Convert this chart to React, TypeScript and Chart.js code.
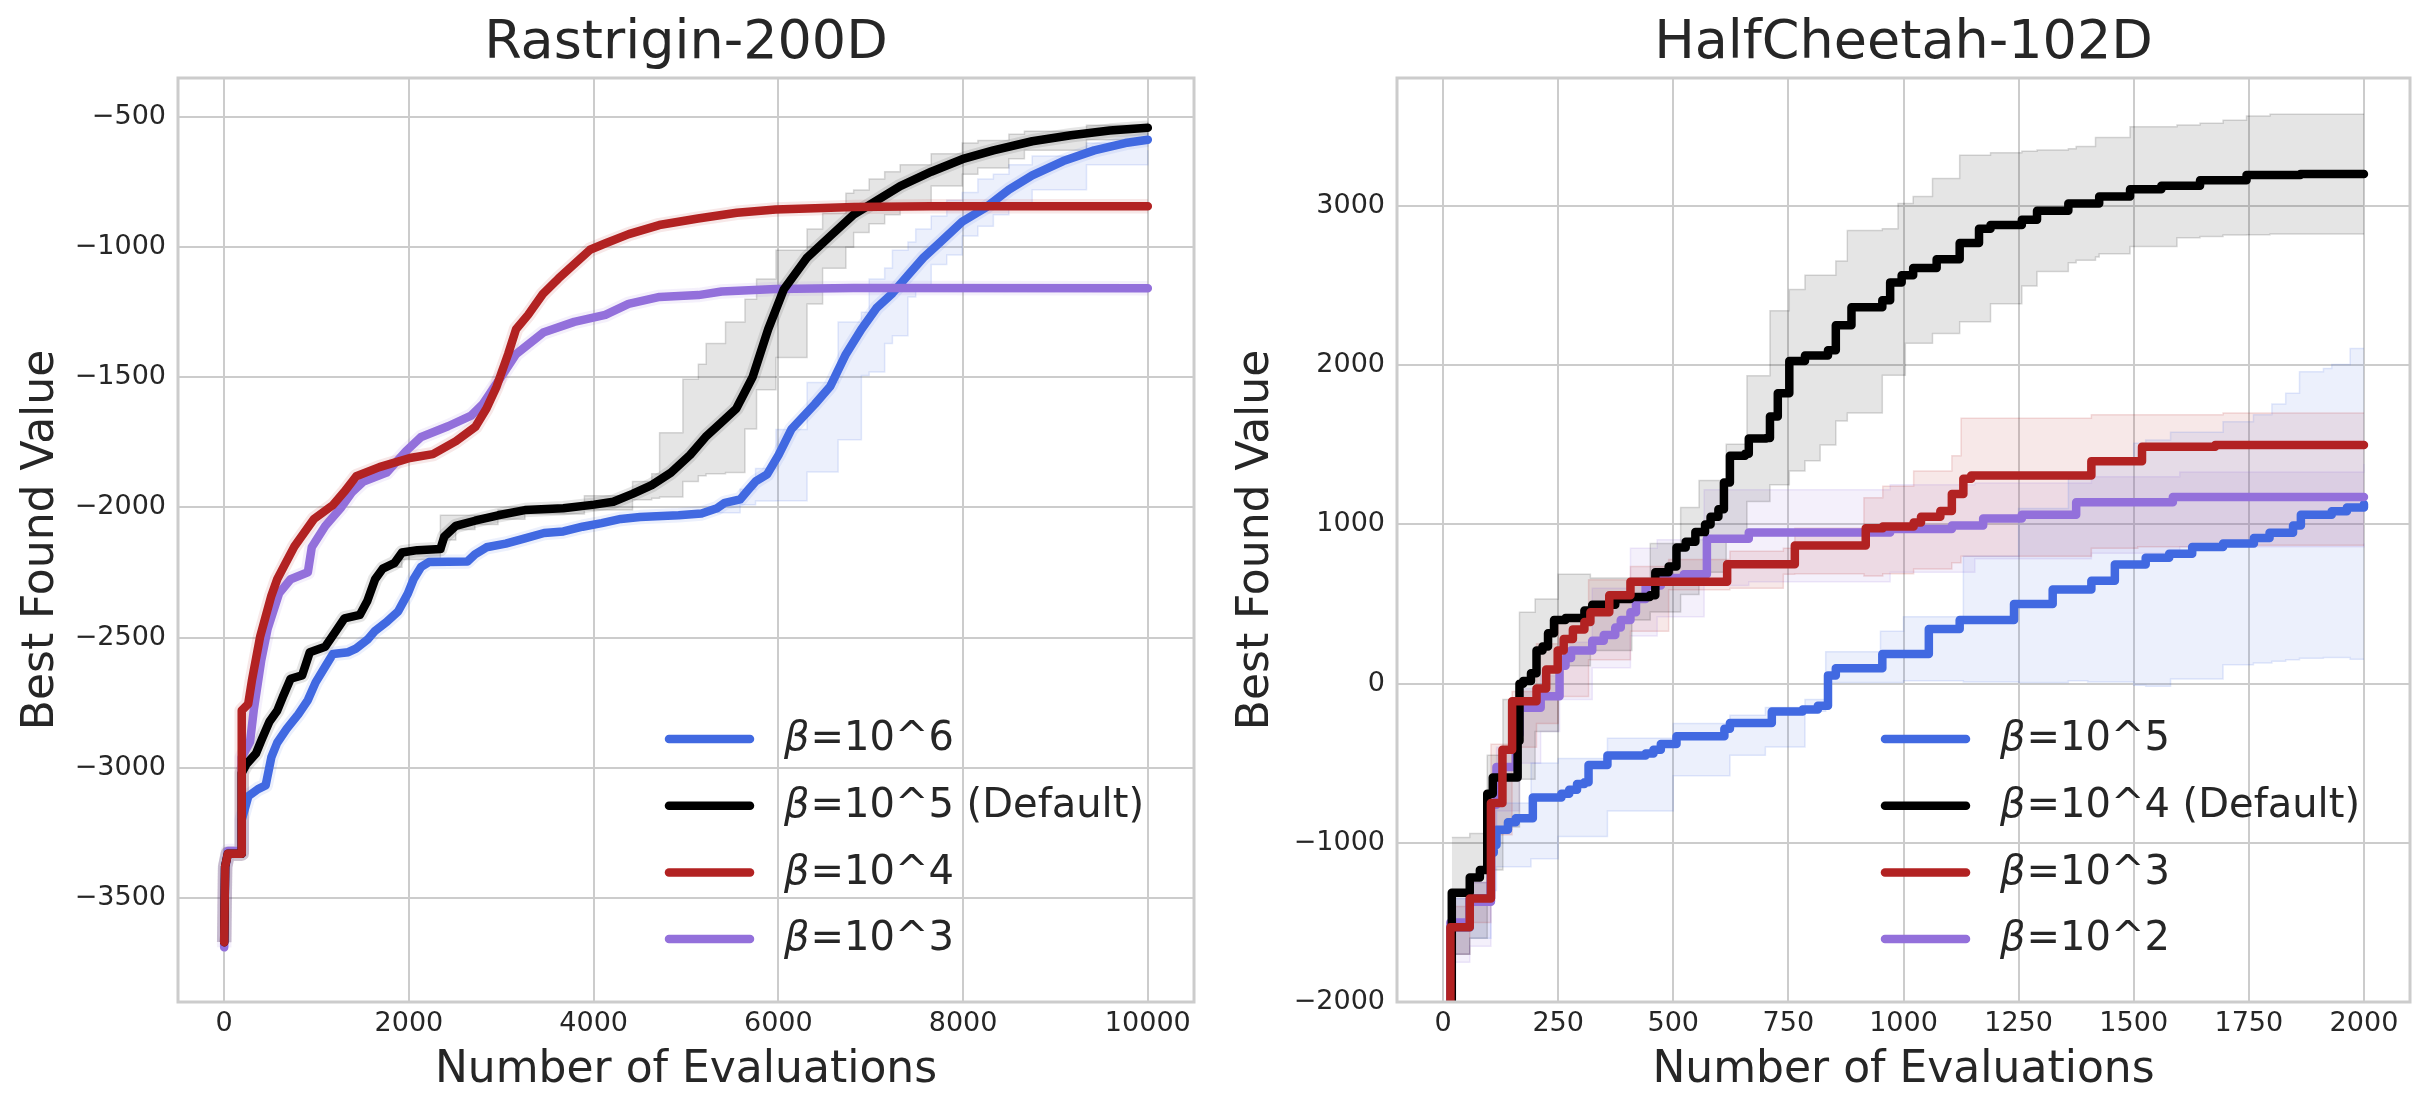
import React, { useEffect, useRef } from "react";
import { Chart, registerables } from "chart.js";

Chart.register(...registerables);

const FONT = '"DejaVu Sans", "Liberation Sans", sans-serif';
const TEXT = "#262626";
const GRID = "#cccccc";

const BLUE = "65,105,225";
const BLACK = "0,0,0";
const RED = "178,34,34";
const PURPLE = "147,112,219";

// ---------- text ----------
const rastTitle = "Rastrigin-200D";
const cheetahTitle = "HalfCheetah-102D";
const xLabel = "Number of Evaluations";
const yLabel = "Best Found Value";
const rastLegend = ["β=10^6", "β=10^5 (Default)", "β=10^4", "β=10^3"];
const cheetahLegend = ["β=10^5", "β=10^4 (Default)", "β=10^3", "β=10^2"];

// ---------- ticks ----------
const rastXTicks = [0, 2000, 4000, 6000, 8000, 10000];
const rastYTicks = [-3500, -3000, -2500, -2000, -1500, -1000, -500];
const cheetahXTicks = [0, 250, 500, 750, 1000, 1250, 1500, 1750, 2000];
const cheetahYTicks = [-2000, -1000, 0, 1000, 2000, 3000];

// ---------- Rastrigin-200D ----------
// beta = 10^6 (blue)
const r6X = [0, 10, 40, 185, 190, 262, 366, 449, 511, 574, 678, 802, 906, 990, 1094, 1177, 1343, 1426, 1551, 1634, 1759, 1884, 1988, 2050, 2133, 2216, 2632, 2715, 2840, 3048, 3256, 3464, 3672, 3879, 4087, 4295, 4503, 4920, 5168, 5336, 5420, 5586, 5670, 5753, 5878, 6003, 6142, 6395, 6563, 6731, 6899, 7067, 7235, 7403, 7571, 7739, 7991, 8244, 8496, 8748, 9084, 9420, 9756, 10000];
const r6Y = [-3670, -3380, -3330, -3330, -3200, -3109, -3082, -3068, -2959, -2904, -2850, -2795, -2740, -2672, -2611, -2563, -2556, -2542, -2508, -2474, -2440, -2399, -2331, -2276, -2228, -2210, -2208, -2180, -2153, -2139, -2119, -2098, -2092, -2074, -2060, -2044, -2037, -2030, -2023, -2003, -1982, -1969, -1934, -1900, -1873, -1798, -1699, -1603, -1534, -1411, -1315, -1232, -1177, -1108, -1040, -985, -902, -848, -779, -724, -669, -628, -600, -587];
const r6BandX = [5336, 5586, 5753, 5974, 6311, 6647, 6899, 6983, 7151, 7235, 7403, 7487, 7655, 7823, 7991, 8160, 8328, 8496, 8748, 9336, 10000];
const r6BandHi = [-1985, -1930, -1850, -1700, -1520, -1287, -1250, -1122, -1080, -1012, -980, -930, -880, -820, -790, -738, -720, -683, -650, -600, -559];
const r6BandLo = [-2020, -1990, -1975, -1974, -1864, -1740, -1493, -1480, -1370, -1340, -1191, -1150, -1067, -1030, -957, -920, -875, -840, -779, -683, -628];

// beta = 10^5 (black, default)
const r5X = [0, 10, 40, 185, 190, 241, 345, 407, 491, 574, 636, 719, 844, 927, 1094, 1198, 1302, 1468, 1551, 1634, 1717, 1842, 1925, 2091, 2341, 2383, 2507, 2715, 2965, 3256, 3672, 4005, 4213, 4421, 4629, 4837, 5045, 5212, 5378, 5545, 5720, 5890, 6058, 6311, 6563, 6815, 7067, 7319, 7655, 7991, 8328, 8748, 9168, 9588, 10000];
const r5Y = [-3670, -3380, -3330, -3330, -3020, -2986, -2945, -2891, -2822, -2781, -2727, -2658, -2645, -2556, -2535, -2481, -2426, -2413, -2358, -2276, -2235, -2214, -2173, -2164, -2160, -2112, -2071, -2051, -2030, -2010, -2003, -1989, -1978, -1948, -1914, -1866, -1798, -1729, -1675, -1620, -1500, -1315, -1163, -1040, -957, -875, -820, -765, -710, -662, -628, -593, -570, -552, -541];
const r5BandX = [1842, 1925, 2341, 2383, 2507, 2715, 2965, 3256, 3900, 4421, 4629, 4714, 4966, 5134, 5218, 5428, 5638, 5764, 5974, 6311, 6479, 6731, 6815, 6983, 7151, 7319, 7655, 7991, 8160, 8496, 8664, 9336, 10000];
const r5BandHi = [-2200, -2160, -2030, -2030, -2030, -2030, -2010, -2000, -1955, -1900, -1870, -1713, -1507, -1450, -1370, -1287, -1200, -1122, -1012, -930, -870, -793, -780, -738, -710, -683, -641, -600, -590, -566, -555, -532, -518];
const r5BandLo = [-2230, -2200, -2170, -2125, -2085, -2065, -2045, -2025, -2010, -1970, -1965, -1960, -1900, -1878, -1870, -1866, -1699, -1548, -1424, -1218, -1081, -1000, -944, -910, -875, -840, -765, -720, -696, -660, -628, -587, -559];

// beta = 10^4 (red)
const r4X = [0, 10, 40, 185, 190, 260, 300, 390, 510, 575, 700, 760, 970, 1180, 1300, 1430, 1680, 2010, 2260, 2510, 2720, 2840, 2950, 3075, 3160, 3290, 3450, 3620, 3790, 3960, 4130, 4380, 4710, 5130, 5550, 5970, 6820, 7650, 10000];
const r4Y = [-3670, -3380, -3330, -3330, -2780, -2755, -2665, -2495, -2340, -2275, -2190, -2150, -2045, -1990, -1940, -1880, -1845, -1810, -1795, -1745, -1690, -1620, -1535, -1410, -1315, -1260, -1180, -1120, -1065, -1010, -985, -950, -915, -890, -868, -855, -846, -843, -843];

// beta = 10^3 (purple)
const r3X = [0, 10, 40, 185, 190, 280, 320, 400, 470, 594, 719, 906, 948, 1094, 1260, 1385, 1509, 1759, 1967, 2133, 2424, 2674, 2798, 3034, 3160, 3454, 3790, 4126, 4378, 4714, 5134, 5386, 5974, 6815, 10000];
const r3Y = [-3690, -3390, -3320, -3320, -2960, -2900, -2780, -2590, -2467, -2330, -2276, -2249, -2153, -2071, -2003, -1941, -1900, -1866, -1784, -1729, -1688, -1647, -1604, -1479, -1411, -1328, -1287, -1260, -1218, -1191, -1184, -1170, -1161, -1157, -1158];

// ---------- HalfCheetah-102D ----------
// beta = 10^5 (blue)
const h5X = [12, 16, 58, 104, 110, 116, 141, 158, 195, 257, 274, 291, 307, 316, 357, 440, 457, 473, 507, 611, 623, 714, 781, 814, 836, 853, 954, 1055, 1122, 1240, 1324, 1408, 1459, 1526, 1577, 1627, 1694, 1761, 1795, 1846, 1863, 1930, 1963, 2000];
const h5Y = [-2300, -1530, -1350, -1062, -1014, -918, -870, -846, -715, -691, -667, -631, -619, -511, -451, -439, -415, -379, -331, -283, -247, -175, -163, -139, 52, 97, 186, 344, 400, 501, 591, 647, 748, 791, 816, 859, 881, 915, 948, 993, 1061, 1083, 1106, 1128];
const h5BandX = [16, 58, 104, 116, 191, 250, 357, 500, 623, 700, 786, 831, 950, 1000, 1130, 1250, 1358, 1400, 1500, 1526, 1580, 1694, 1760, 1800, 1830, 1860, 1912, 1930, 1970, 2000];
const h5BandHi = [-1350, -1250, -1000, -750, -499, -470, -343, -250, -199, -150, -100, 200, 330, 420, 800, 1100, 1300, 1380, 1510, 1530, 1580, 1645, 1690, 1757, 1825, 1960, 1980, 2005, 2106, 2106];
const h5BandLo = [-1700, -1600, -1300, -1150, -1100, -960, -800, -578, -450, -398, -173, 7, 7, 18, 10, 7, 18, 10, -10, -16, 30, 119, 130, 140, 150, 160, 164, 164, 153, 153];

// beta = 10^4 (black, default)
const h4X = [10, 19, 58, 80, 96, 108, 162, 166, 174, 191, 203, 216, 228, 241, 266, 307, 324, 374, 407, 449, 461, 490, 507, 527, 548, 569, 581, 598, 610, 623, 656, 664, 702, 710, 727, 752, 786, 836, 853, 887, 954, 971, 996, 1021, 1072, 1122, 1164, 1189, 1257, 1290, 1358, 1425, 1492, 1560, 1644, 1745, 1862, 2000];
const h4Y = [-2300, -1314, -1218, -1170, -691, -590, -360, 0, 17, 65, 209, 233, 317, 400, 412, 460, 496, 532, 544, 556, 700, 736, 856, 892, 952, 1000, 1048, 1096, 1264, 1432, 1444, 1540, 1544, 1679, 1825, 2027, 2061, 2094, 2252, 2364, 2409, 2521, 2566, 2611, 2667, 2769, 2858, 2881, 2915, 2971, 3016, 3061, 3106, 3128, 3162, 3195, 3202, 3202];
const h4BandX = [19, 58, 96, 130, 166, 200, 250, 320, 410, 450, 516, 556, 615, 660, 710, 752, 786, 819, 853, 878, 954, 988, 1004, 1021, 1063, 1122, 1189, 1257, 1290, 1358, 1375, 1417, 1425, 1492, 1594, 1644, 1694, 1745, 1796, 2000];
const h4BandHi = [-966, -942, -450, -100, 448, 532, 688, 664, 664, 880, 1106, 1276, 1504, 1935, 2342, 2476, 2566, 2566, 2656, 2847, 2858, 3016, 3016, 3061, 3173, 3319, 3335, 3345, 3353, 3360, 3375, 3431, 3431, 3499, 3510, 3521, 3540, 3566, 3577, 3577];
const h4BandLo = [-1700, -1600, -1170, -900, -600, -300, 113, 209, 400, 450, 560, 700, 900, 1144, 1250, 1336, 1400, 1500, 1650, 1700, 1937, 1937, 2139, 2139, 2200, 2274, 2387, 2499, 2589, 2645, 2660, 2680, 2701, 2746, 2802, 2810, 2818, 2820, 2825, 2825];

// beta = 10^3 (red)
const h3X = [12, 16, 58, 104, 129, 150, 203, 224, 249, 262, 282, 307, 320, 361, 407, 617, 764, 918, 955, 1022, 1038, 1080, 1105, 1130, 1147, 1408, 1518, 1677, 2000];
const h3Y = [-2300, -1530, -1350, -750, -415, -110, -31, 89, 209, 281, 341, 388, 448, 556, 640, 750, 868, 976, 988, 1012, 1048, 1084, 1192, 1288, 1308, 1398, 1488, 1499, 1499];
const h3BandX = [16, 58, 104, 150, 203, 250, 316, 407, 490, 623, 739, 764, 914, 955, 1022, 1105, 1125, 1408, 1509, 1694, 2000];
const h3BandHi = [-1400, -1250, -380, -50, 250, 400, 652, 736, 780, 832, 850, 976, 1168, 1240, 1336, 1432, 1668, 1690, 1690, 1701, 1701];
const h3BandLo = [-1700, -1500, -950, -400, -250, -80, 150, 330, 590, 600, 688, 690, 676, 690, 720, 760, 800, 850, 860, 870, 870];

// beta = 10^2 (purple)
const h2X = [12, 16, 58, 104, 116, 158, 166, 212, 253, 266, 278, 324, 349, 374, 386, 407, 419, 440, 473, 523, 573, 664, 971, 1105, 1173, 1257, 1375, 1585, 2000];
const h2Y = [-2300, -1500, -1370, -760, -523, -319, -151, -79, 113, 161, 209, 269, 305, 353, 400, 448, 532, 616, 664, 688, 910, 950, 971, 993, 1038, 1061, 1140, 1173, 1173];
const h2BandX = [16, 58, 104, 116, 166, 212, 253, 324, 407, 465, 567, 664, 971, 1155, 1408, 1600, 2000];
const h2BandHi = [-1350, -1250, -600, -400, -31, 50, 260, 600, 850, 904, 1218, 1218, 1250, 1260, 1300, 1330, 1380];
const h2BandLo = [-1750, -1650, -1000, -800, -500, -300, -100, 100, 300, 420, 616, 640, 700, 784, 820, 860, 880];

// ---------- helpers ----------
const rgba = (c: string, a: number) => `rgba(${c},${a})`;
const pts = (xs: number[], ys: number[]) => xs.map((x, i) => ({ x, y: ys[i] }));
const fmt = (v: number) => (v < 0 ? "\u2212" + Math.abs(v) : String(v));

const LINE_W = 8.5;

type Series = { label: string; x: number[]; y: number[]; color: string; order: number };
type Band = { x: number[]; lo: number[]; hi: number[]; color: string };

function makeOverlay(entries: { label: string; color: string }[]) {
  return {
    id: "frameAndLegend",
    afterDatasetsDraw(chart: any) {
      const { ctx, chartArea: a } = chart;
      ctx.save();
      ctx.strokeStyle = GRID;
      ctx.lineWidth = 3;
      ctx.strokeRect(a.left, a.top, a.right - a.left, a.bottom - a.top);
      const x0 = a.right - 529;
      entries.forEach((e, i) => {
        const y = a.bottom - 263 + i * 66.7;
        ctx.strokeStyle = rgba(e.color, 1);
        ctx.lineWidth = LINE_W;
        ctx.lineCap = "round";
        ctx.beginPath();
        ctx.moveTo(x0 + 4, y);
        ctx.lineTo(x0 + 85, y);
        ctx.stroke();
        ctx.fillStyle = TEXT;
        ctx.textBaseline = "middle";
        ctx.textAlign = "left";
        ctx.font = `italic 40px ${FONT}`;
        const sym = e.label.charAt(0);
        ctx.fillText(sym, x0 + 119, y + 1);
        const w = ctx.measureText(sym).width;
        ctx.font = `40px ${FONT}`;
        ctx.fillText(e.label.slice(1), x0 + 119 + w + 1, y + 1);
      });
      ctx.restore();
    },
  };
}

function buildConfig(p: {
  title: string;
  series: Series[];
  bands: Band[];
  halo: boolean;
  lineStepped: boolean;
  xMin: number; xMax: number; yMin: number; yMax: number;
  xTicks: number[]; yTicks: number[];
  yWidth: number; padRight: number;
}): any {
  const datasets: any[] = [];
  p.bands.forEach((b) => {
    datasets.push({
      data: pts(b.x, b.hi), borderColor: rgba(b.color, 0.15), borderWidth: 1.5,
      backgroundColor: rgba(b.color, 0.1), fill: "+1", stepped: true, pointRadius: 0, order: 20, clip: 0,
    });
    datasets.push({
      data: pts(b.x, b.lo), borderColor: rgba(b.color, 0.15), borderWidth: 1.5,
      fill: false, stepped: true, pointRadius: 0, order: 20, clip: 0,
    });
  });
  if (p.halo) {
    p.series.forEach((s) => {
      datasets.push({
        data: pts(s.x, s.y), borderColor: rgba(s.color, 0.1), borderWidth: LINE_W + 6,
        fill: false, stepped: p.lineStepped, pointRadius: 0, order: 10, clip: 0, borderJoinStyle: "round",
      });
    });
  }
  p.series.forEach((s) => {
    datasets.push({
      label: s.label, data: pts(s.x, s.y), borderColor: rgba(s.color, 1), borderWidth: LINE_W,
      fill: false, stepped: p.lineStepped, pointRadius: 0, order: s.order, clip: 0,
      borderJoinStyle: "round", borderCapStyle: "round",
    });
  });

  return {
    type: "line",
    data: { datasets },
    options: {
      animation: false,
      responsive: false,
      devicePixelRatio: 1,
      events: [],
      layout: { padding: { left: 0, right: p.padRight, top: 0, bottom: 0 } },
      plugins: {
        legend: { display: false },
        tooltip: { enabled: false },
        filler: { drawTime: "beforeDatasetsDraw" },
        title: {
          display: true, text: p.title, color: TEXT, fullSize: false,
          font: { family: FONT, size: 54, weight: "normal" },
          padding: { top: 11.4, bottom: 1.8 },
        },
      },
      scales: {
        x: {
          type: "linear", min: p.xMin, max: p.xMax,
          afterBuildTicks: (s: any) => { s.ticks = p.xTicks.map((v) => ({ value: v })); },
          afterFit: (s: any) => { s.height = 112; },
          ticks: { font: { family: FONT, size: 27 }, color: TEXT, padding: 5.5, maxRotation: 0, autoSkip: false, callback: (v: any) => fmt(Number(v)) },
          grid: { color: GRID, lineWidth: 2, drawTicks: false, tickLength: 0 },
          border: { display: false },
          title: { display: true, text: xLabel, color: TEXT, font: { family: FONT, size: 44 }, padding: { top: 0, bottom: 16.8 } },
        },
        y: {
          type: "linear", min: p.yMin, max: p.yMax,
          afterBuildTicks: (s: any) => { s.ticks = p.yTicks.map((v) => ({ value: v })); },
          afterFit: (s: any) => { s.width = p.yWidth; },
          ticks: { font: { family: FONT, size: 27 }, color: TEXT, padding: 12, autoSkip: false, callback: (v: any) => fmt(Number(v)) },
          grid: { color: GRID, lineWidth: 2, drawTicks: false, tickLength: 0 },
          border: { display: false },
          title: { display: true, text: yLabel, color: TEXT, font: { family: FONT, size: 44 }, padding: { top: 15, bottom: 0 } },
        },
      },
    },
    plugins: [makeOverlay(p.series.map((s) => ({ label: s.label, color: s.color })))],
  };
}

const rastSeries: Series[] = [
  { label: rastLegend[0], x: r6X, y: r6Y, color: BLUE, order: 4 },
  { label: rastLegend[1], x: r5X, y: r5Y, color: BLACK, order: 2 },
  { label: rastLegend[2], x: r4X, y: r4Y, color: RED, order: 1 },
  { label: rastLegend[3], x: r3X, y: r3Y, color: PURPLE, order: 3 },
];
const rastBands: Band[] = [
  { x: r5BandX, lo: r5BandLo, hi: r5BandHi, color: BLACK },
  { x: r6BandX, lo: r6BandLo, hi: r6BandHi, color: BLUE },
];
const cheetahSeries: Series[] = [
  { label: cheetahLegend[0], x: h5X, y: h5Y, color: BLUE, order: 4 },
  { label: cheetahLegend[1], x: h4X, y: h4Y, color: BLACK, order: 2 },
  { label: cheetahLegend[2], x: h3X, y: h3Y, color: RED, order: 1 },
  { label: cheetahLegend[3], x: h2X, y: h2Y, color: PURPLE, order: 3 },
];
const cheetahBands: Band[] = [
  { x: h4BandX, lo: h4BandLo, hi: h4BandHi, color: BLACK },
  { x: h5BandX, lo: h5BandLo, hi: h5BandHi, color: BLUE },
  { x: h3BandX, lo: h3BandLo, hi: h3BandHi, color: RED },
  { x: h2BandX, lo: h2BandLo, hi: h2BandHi, color: PURPLE },
];

export default function App() {
  const leftRef = useRef<HTMLCanvasElement>(null);
  const rightRef = useRef<HTMLCanvasElement>(null);

  useEffect(() => {
    const c1 = new Chart(leftRef.current as HTMLCanvasElement, buildConfig({
      title: rastTitle, series: rastSeries, bands: rastBands, halo: true, lineStepped: false,
      xMin: -500, xMax: 10500, yMin: -3900, yMax: -350,
      xTicks: rastXTicks, yTicks: rastYTicks, yWidth: 178, padRight: 21,
    }));
    const c2 = new Chart(rightRef.current as HTMLCanvasElement, buildConfig({
      title: cheetahTitle, series: cheetahSeries, bands: cheetahBands, halo: false, lineStepped: true,
      xMin: -100, xMax: 2100, yMin: -2000, yMax: 3805,
      xTicks: cheetahXTicks, yTicks: cheetahYTicks, yWidth: 182, padRight: 20,
    }));
    return () => {
      c1.destroy();
      c2.destroy();
    };
  }, []);

  return (
    <div style={{ position: "fixed", left: 0, top: 0, width: 2430, height: 1114, background: "#ffffff", overflow: "hidden" }}>
      <canvas ref={leftRef} width={1215} height={1114} style={{ position: "absolute", left: 0, top: 0, width: 1215, height: 1114 }} />
      <canvas ref={rightRef} width={1215} height={1114} style={{ position: "absolute", left: 1215, top: 0, width: 1215, height: 1114 }} />
    </div>
  );
}
